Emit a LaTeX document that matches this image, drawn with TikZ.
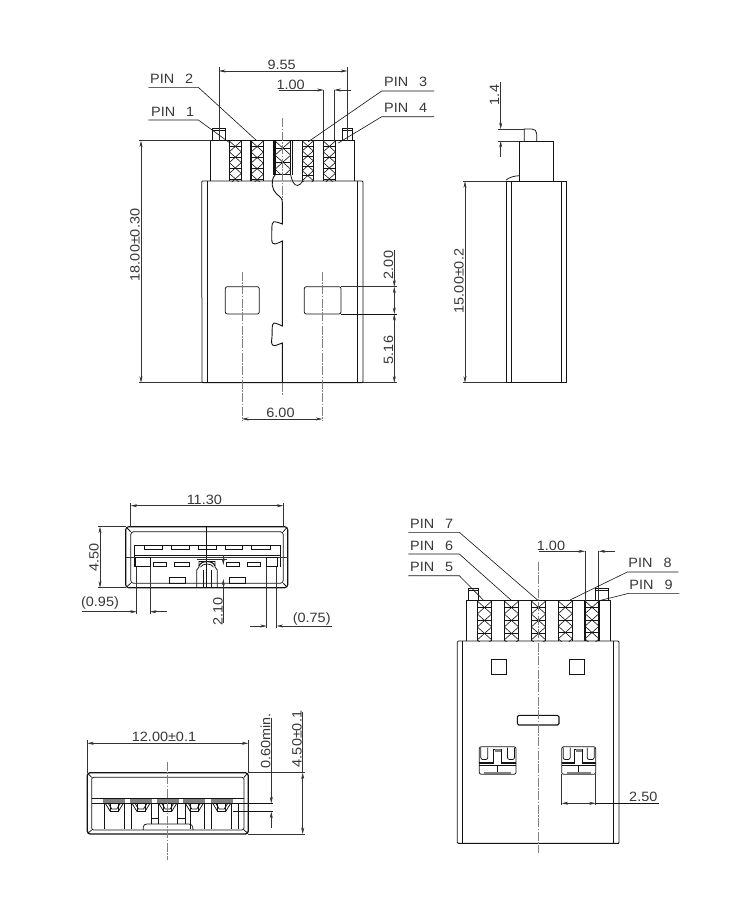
\documentclass[tikz,border=0pt]{standalone}
\usepackage{fontspec}
\setmainfont[FakeStretch=1.07]{Liberation Sans}
\usetikzlibrary{arrows.meta}
\definecolor{ink}{gray}{0.08}
\definecolor{txt}{gray}{0.22}
\definecolor{dimc}{gray}{0.2}
\tikzset{
 obj/.style={draw=ink,line width=0.75pt},
 heavy/.style={draw=ink,line width=1.1pt},
 dimline/.style={draw=dimc,line width=0.55pt},
 leader/.style={draw=ink,line width=0.6pt},
 cl/.style={draw=gray,line width=0.55pt,dash pattern=on 9pt off 1.5pt on 1.5pt off 1.5pt},
 tip/.style={-{Stealth[length=6.5pt,width=3pt]}},
 both/.style={{Stealth[length=6.5pt,width=3pt]}-{Stealth[length=6.5pt,width=3pt]}},
 lbl/.style={text=txt,inner sep=0pt,font=\fontsize{13.5}{14}\selectfont},
 vlbl/.style={lbl,rotate=90},
}
\newcommand{\pinlbl}[1]{PIN\hspace{11pt}#1}
% hatched contact: x1 x2 y1 y2
\newcommand{\contact}[4]{%
 \begin{scope}
  \clip (#1,#3) rectangle (#2,#4);
  \pgfmathsetmacro{\wid}{(#2-#1)*0.9}
  \foreach \k in {0,1,2,3,4,5}{
   \draw[draw=ink,line width=0.6pt] (#1,#3+\k*\wid-\wid) -- (#2,#3+\k*\wid);
   \draw[draw=ink,line width=0.6pt] (#2,#3+\k*\wid-\wid) -- (#1,#3+\k*\wid);
   \draw[draw=ink,line width=0.5pt] (#1,#3+\k*\wid-\wid/2) -- (#2,#3+\k*\wid-\wid/2);
  }
 \end{scope}
 \draw[draw=ink,line width=1.2pt] (#1,#3) -- (#1,#4) (#2,#3) -- (#2,#4);
}
% clip window of the lower right view: x0 w
\newcommand{\latch}[2]{%
 \pgfmathsetmacro{\xr}{#1+#2}
 \draw[obj,rounded corners=2pt] (#1,746.7) rectangle (\xr,774.3);
 \draw[obj,rounded corners=2pt] (#1+1.5,747.5) -- (#1+1.5,759.5) -- (#1+8.5,759.5) -- (#1+8.5,747.5);
 \draw[obj,rounded corners=2pt] (\xr-1.5,747.5) -- (\xr-1.5,759.5) -- (\xr-8.5,759.5) -- (\xr-8.5,747.5);
 \draw[obj] (#1+#2/2-4,764) -- (#1+#2/2-4,749) -- (#1+#2/2+4,749) -- (#1+#2/2+4,764);
 \fill[gray] (#1+#2/2-3,749) rectangle (#1+#2/2+3,752);
 \draw[heavy] (#1,763) -- (#1+#2/2-4,763) (#1+#2/2+4,763) -- (\xr,763);
 \draw[obj] (#1,765.5) -- (\xr,765.5);
 \draw[obj] (#1+#2/2,765.5) -- (#1+#2/2,774.3);
 \fill[gray] (#1+5,771.7) rectangle (\xr-5,774.3);
}
% contact in the end view
\newcommand{\tippin}[1]{%
 \fill[gray] (#1-11,799) rectangle (#1+11,803);
 \draw[obj] (#1-9,803.3) -- (#1-4,811.5) -- (#1+4,811.5) -- (#1+9,803.3);
 \draw[obj] (#1-6,803.3) -- (#1-2.5,809) -- (#1+2.5,809) -- (#1+6,803.3);
 \draw[obj] (#1-4,811.5) -- (#1-4,804) (#1+4,811.5) -- (#1+4,804);
}
\begin{document}
\begin{tikzpicture}[x=1pt,y=-1pt]
\useasboundingbox[fill=white] (0,0) rectangle (750,900);

%% ===== top view =====
\draw[obj] (210.7,181) -- (210.7,140.7) -- (354,140.7) -- (354,181);
\draw[obj] (212.3,140.7) -- (212.3,128.3) -- (225.7,128.3) -- (225.7,140.7);
\draw[obj] (212.3,130) -- (225.7,130);
\draw[obj] (342,140.7) -- (342,128.3) -- (352.7,128.3) -- (352.7,140.7);
\draw[obj] (342,130) -- (352.7,130);
\contact{229.3}{241.3}{141}{181}
\contact{251}{263.3}{141}{181}
\contact{275}{290.7}{141}{174.5}
\draw[draw=ink,line width=1.2pt] (273.3,141) -- (273.3,175) (292.7,141) -- (292.7,175) (275,174.5) -- (290.7,174.5);
\contact{302.3}{313.3}{141}{181}
\contact{323.3}{335.3}{141}{181}
\draw[obj,rounded corners=1pt] (202,382.7) -- (201.7,181) -- (363,181) -- (363,382.7) -- cycle;
\draw[heavy] (201.7,382.7) -- (363,382.7);
\draw[obj] (207,181) -- (207,382.7) (357.7,181) -- (357.7,382.7);
\draw[cl] (282.3,118) -- (282.3,200);
\draw[cl] (282.3,382.7) -- (282.3,396);
\draw[heavy,line width=0.9pt] (275,175) .. controls (270,181) and (272,190) .. (276.7,194) .. controls (280,197) and (282.3,198) .. (282.3,202)
 -- (282.3,224) .. controls (280,223) and (276,221.7) .. (274,221.7) .. controls (271,222) and (272,232) .. (271.7,238) .. controls (271.5,243) and (273,244.5) .. (275,244) .. controls (278,243.5) and (280,242) .. (282.3,241)
 -- (282.3,326) .. controls (280,325) and (276,323) .. (274,323) .. controls (271,323.5) and (273,333) .. (271.5,341) .. controls (271.5,345) and (273,346) .. (275,345.7) .. controls (278,345) and (280,343.5) .. (282.3,343) -- (282.3,382.7);
\draw[obj] (290.7,175) .. controls (292,181) and (294,185.5) .. (297.5,185.5) .. controls (300,185.5) and (301,183) .. (302.7,181);
\draw[obj,rounded corners=2pt] (225.3,286.7) rectangle (259.3,314);
\draw[obj,rounded corners=2pt] (304.3,286.7) rectangle (341,314);
\draw[cl] (242,271.7) -- (242,420.7);
\draw[cl] (322.3,271.7) -- (322.3,420.7);
% dimensions
\coordinate (d955a) at (219,71); \coordinate (d955b) at (347.3,71);
\draw[dimline] (219,67) -- (219,141) (347.3,67) -- (347.3,141);
\draw[dimline,both] (d955a) -- (d955b);
\node[lbl] (t955) at (281.7,65) {9.55};
\draw[dimline] (323.7,90) -- (323.7,141) (334.3,90) -- (334.3,141);
\draw[dimline,tip] (279.3,90) -- (323.7,90);
\draw[dimline,tip] (350.7,90) -- (334.3,90);
\node[lbl] (t100a) at (290.7,85) {1.00};
\draw[dimline] (139,140.7) -- (211,140.7) (139,382.7) -- (202,382.7);
\draw[dimline,both] (141,140.7) -- (141,382.7);
\node[vlbl] (t18) at (135,245) {18.00±0.30};
\draw[dimline] (341,286.7) -- (397,286.7);
\draw[leader] (341,314) -- (397,314);
\draw[dimline] (363,382.7) -- (397,382.7);
\draw[dimline,tip] (394.3,250) -- (394.3,286.7);
\draw[dimline,tip] (394.3,300) -- (394.3,314);
\draw[dimline,both] (394.3,314) -- (394.3,382.7);
\draw[dimline,tip] (394.3,300) -- (394.3,286.7);
\node[vlbl] (t200) at (388.5,265) {2.00};
\node[vlbl] (t516) at (388.5,350) {5.16};
\draw[dimline,both] (242,419) -- (322.3,419);
\node[lbl] (t600) at (280.5,412.7) {6.00};
% pin labels
\node[lbl] (p2) at (171.7,79) {\pinlbl{2}};
\draw[leader] (148.3,87.3) -- (198.3,87.3) -- (256.7,140.7);
\node[lbl] (p1) at (172.7,111.7) {\pinlbl{1}};
\draw[leader] (148.3,120) -- (198.3,120) -- (230,143);
\node[lbl] (p3) at (405.7,82.3) {\pinlbl{3}};
\draw[leader] (434,91) -- (381.7,91) -- (308.3,141.7);
\node[lbl] (p4) at (405.7,108) {\pinlbl{4}};
\draw[leader] (434,116.7) -- (381.7,116.7) -- (338.3,143);

%% ===== side view =====
\draw[heavy,line width=0.9pt] (519.3,181.3) -- (519.3,141) -- (553.3,141) -- (553.3,181.3);
\draw[obj] (524.3,141) -- (524.3,129) -- (532,129) .. controls (535,129) and (536.7,131) .. (536.7,134) -- (536.7,141);
\draw[obj] (506,180) .. controls (510,177) and (514,176) .. (519.3,175.7);
\draw[obj] (506,382.7) -- (506,181.3) -- (566.7,181.3) -- (566.7,382.7);
\draw[heavy] (506,382.7) -- (566.7,382.7);
\draw[obj] (511.7,181.3) -- (511.7,382.7) (561,181.3) -- (561,382.7);
\draw[dimline] (498,129) -- (524.3,129) (498,141) -- (519.3,141);
\draw[dimline,tip] (500.7,82.3) -- (500.7,129);
\draw[dimline,tip] (500.7,157.3) -- (500.7,141);
\node[vlbl] (t14) at (494.5,95) {1.4};
\draw[dimline] (462.7,181.3) -- (506,181.3) (462.7,382.7) -- (506,382.7);
\draw[dimline,both] (465,181.3) -- (465,382.7);
\node[vlbl] (t15) at (459,281) {15.00±0.2};

%% ===== front view =====
\draw[heavy,rounded corners=3pt] (125.7,526.7) rectangle (287.7,587.7);
\draw[obj,rounded corners=3pt] (130.7,531.7) rectangle (283.3,583.3);
\draw[obj] (126.5,527.5) -- (130.7,531.7) (286.9,527.5) -- (283.3,531.7) (126.5,586.9) -- (130.7,583.3) (286.9,586.9) -- (283.3,583.3);
\draw[obj] (134.3,566.7) -- (134.3,545) -- (280,545) -- (280,566.7);
\draw[heavy] (134.3,555.7) -- (280,555.7);
\draw[dimline] (125.7,557.7) -- (288,557.7);
\foreach \a/\b in {144.3/162.3,171.3/189,198.3/216,225/242.7,251.7/270}{
 \draw[obj] (\a,545.7) rectangle (\b,549.3);}
\foreach \a/\b in {153.3/166.7,174.3/189,226/239.3,247.3/260.7}{
 \draw[obj] (\a,562) rectangle (\b,566.3);}
\draw[obj] (135.7,557.7) rectangle (150,566.7);
\draw[obj] (266.7,557.7) rectangle (277.3,566.7);
\draw[obj] (169,577.7) rectangle (185,583.3);
\draw[obj] (229.3,577.7) rectangle (245.7,583.3);
\draw[obj] (196.7,587.7) -- (196.7,570) -- (199,567) -- (199,561);
\draw[obj] (217.3,587.7) -- (217.3,570) -- (215,567) -- (215,561);
\draw[obj] (199,561) -- (215,561);
\draw[heavy] (199,566) .. controls (201,560) and (213,560) .. (215,566);
\draw[obj] (200.5,567) .. controls (203,563) and (211,563) .. (213.5,567);
\draw[obj] (203,570) -- (203,587.7) (211,570) -- (211,587.7);
\draw[draw=ink,line width=0.8pt] (206.7,526.7) -- (206.7,587.7);
\draw[dimline] (196.7,559) -- (226.7,559);
\draw[dimline] (130.7,503) -- (130.7,527) (283.3,503) -- (283.3,527);
\draw[dimline,both] (130.7,505.7) -- (283.3,505.7);
\node[lbl] (t1130) at (204.3,500) {11.30};
\draw[dimline] (98.3,526.7) -- (126,526.7) (98.3,587.7) -- (126,587.7);
\draw[dimline,both] (100,526.7) -- (100,587.7);
\node[vlbl] (t450a) at (94,557.7) {4.50};
\draw[dimline] (136.7,566.7) -- (136.7,614) (150,566.7) -- (150,614);
\draw[dimline,tip] (82.3,611.7) -- (136.7,611.7);
\draw[dimline,tip] (166.7,611.7) -- (150,611.7);
\node[lbl] (t095) at (100,603.3) {(0.95)};
\draw[dimline] (266.7,566.7) -- (266.7,628) (276.7,566.7) -- (276.7,628);
\draw[dimline,tip] (250,626) -- (266.7,626);
\draw[dimline,tip] (331.7,626) -- (276.7,626);
\node[lbl] (t075) at (311.7,619) {(0.75)};
\draw[dimline,tip] (223.3,623) -- (223.3,579);
\draw[dimline,tip] (223.3,555) -- (223.3,565);
\node[vlbl] (t210) at (218,611.7) {2.10};

%% ===== end view =====
\draw[heavy,line width=1.3pt,rounded corners=3pt] (87.3,772.7) rectangle (248.3,834);
\draw[obj,rounded corners=2pt] (91.7,777.3) rectangle (244,830);
\draw[obj] (88,773.5) -- (91.7,777.3) (247.5,773.5) -- (244,777.3) (88,833) -- (91.7,830) (247.5,833) -- (244,830);
\draw[obj] (91.7,798.7) -- (244,798.7);
\draw[obj] (91.7,803.3) -- (244,803.3);
\tippin{114.3}\tippin{141}\tippin{167.7}\tippin{194.3}\tippin{221.7}
\foreach \x in {104.3,124,131,190.7,204.7,211,231,238.3}{
 \draw[obj] (\x,804) -- (\x,829);}
\foreach \x in {151,158,177.3,185}{
 \draw[obj] (\x,804) -- (\x,824);}
\draw[obj] (151,818) -- (158,818) (177.3,818) -- (185,818);
\draw[obj] (143.3,830) -- (143.3,827) .. controls (143.3,825) and (145,824) .. (147,824) -- (189,824) .. controls (191,824) and (193,825) .. (193,830);
\draw[cl] (167.7,761.7) -- (167.7,860);
\draw[dimline] (87.3,740) -- (87.3,773) (248.3,740) -- (248.3,773);
\draw[dimline,both] (87.3,743.3) -- (248.3,743.3);
\node[lbl] (t1200) at (164,737.3) {12.00±0.1};
\draw[leader] (233,803.3) -- (273.3,803.3) (233,811.7) -- (273.3,811.7);
\draw[dimline,tip] (271.3,718) -- (271.3,803.3);
\draw[dimline,tip] (271.3,828) -- (271.3,811.7);
\node[vlbl] (t060) at (265.5,741) {0.60min.};
\draw[dimline] (248.3,772.7) -- (305,772.7) (248.3,834) -- (305,834);
\draw[dimline,both] (302.7,772.7) -- (302.7,834);
\draw[dimline] (302.7,712) -- (302.7,772.7);
\node[vlbl] (t450b) at (297,739) {4.50±0.1};

%% ===== underside view =====
\draw[obj] (466,641) -- (466,600.7) -- (610.7,600.7) -- (610.7,641);
\draw[obj] (468,600.7) -- (468,588.3) -- (478.7,588.3) -- (478.7,600.7);
\draw[obj] (468,590) -- (478.7,590);
\draw[obj] (595.3,600.7) -- (595.3,588.3) -- (608.7,588.3) -- (608.7,600.7);
\draw[obj] (595.3,590) -- (608.7,590);
\contact{477.3}{491.7}{601}{641}
\contact{504.3}{518.7}{601}{641}
\contact{531.3}{545.7}{601}{641}
\contact{558.3}{572.3}{601}{641}
\contact{585}{599}{601}{641}
\draw[obj,rounded corners=1pt] (457.3,843.3) -- (457.3,641) -- (619,641) -- (619,843.3) -- cycle;
\draw[heavy,line width=1.3pt] (458,843.3) -- (618.5,843.3);
\draw[obj] (462.7,641) -- (462.7,843.3) (613.3,641) -- (613.3,843.3);
\draw[obj] (491.7,659) rectangle (506.7,674.3);
\draw[obj] (569.3,659) rectangle (584.3,674.3);
\draw[heavy,rounded corners=1.5pt] (517.3,715.3) rectangle (559,725);
\latch{479.3}{36.7}
\latch{561.7}{34}
\draw[cl] (538.3,561.7) -- (538.3,853);
\draw[dimline] (561.7,774.3) -- (561.7,805) (595.7,774.3) -- (595.7,805);
\draw[dimline,tip] (572,803.3) -- (561.7,803.3);
\draw[dimline,tip] (585,803.3) -- (595.7,803.3);
\draw[dimline] (572,803.3) -- (585,803.3);
\draw[leader] (595.7,803.3) -- (659,803.3);
\node[lbl] (t250) at (643.3,797.3) {2.50};
\draw[dimline] (585,551.3) -- (585,600.7) (598.7,551.3) -- (598.7,600.7);
\draw[dimline,tip] (539.3,551.3) -- (585,551.3);
\draw[dimline,tip] (615,551.3) -- (598.7,551.3);
\node[lbl] (t100b) at (551,546) {1.00};
\node[lbl] (p7) at (431.7,524) {\pinlbl{7}};
\draw[leader] (408.3,532.3) -- (459.3,532.3) -- (538.3,600.7);
\node[lbl] (p6) at (431.7,546) {\pinlbl{6}};
\draw[leader] (408.3,554) -- (459.3,554) -- (511.7,600.7);
\node[lbl] (p5) at (431.7,567.3) {\pinlbl{5}};
\draw[leader] (408.3,575.7) -- (459.3,575.7) -- (483.3,600);
\node[lbl] (p8) at (650,563.3) {\pinlbl{8}};
\draw[leader] (678.3,572) -- (627.3,572) -- (570,600);
\node[lbl] (p9) at (651,585) {\pinlbl{9}};
\draw[leader] (679.3,593.3) -- (629,593.3) -- (599,600.7);
\end{tikzpicture}
\end{document}
